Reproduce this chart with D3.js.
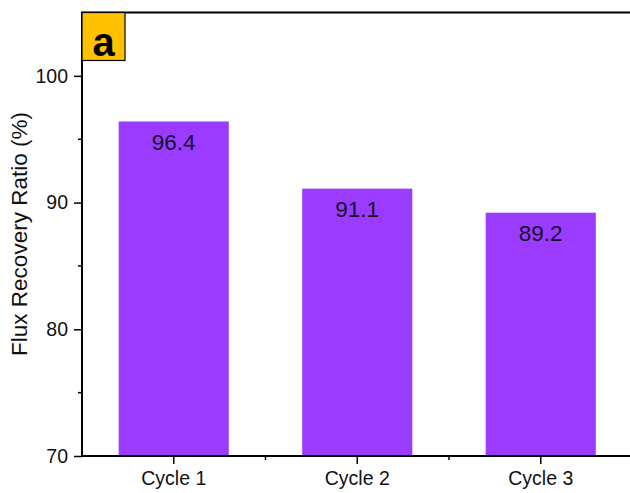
<!DOCTYPE html>
<html>
<head>
  <meta charset="UTF-8">
  <script src="https://d3js.org/d3.v7.min.js"></script>
  <style>
    html, body { margin: 0; padding: 0; background: #fff; overflow: hidden; }
    svg { display: block; font-family: "Liberation Sans", Arial, sans-serif; }
  </style>
</head>
<body>
  <svg width="630" height="493"></svg>
  <script>
    const cycles = ["Cycle 1", "Cycle 2", "Cycle 3"];
    const ratios = [96.4, 91.1, 89.2];
    const majorTicks = [70, 80, 90, 100];
    const minorTicks = [75, 85, 95];
    const panelLabel = "a";

    const svg = d3.select("svg");
    const plotL = 82, plotR = 632.5, plotT = 12.5, plotB = 456;

    const x = d3.scaleBand().domain(cycles).range([plotL, plotR])
      .paddingInner(0.4).paddingOuter(0.2);
    const y = d3.scaleLinear().domain([70, 105]).range([plotB, plotT]);

    // bars
    svg.append("g").selectAll("rect")
      .data(cycles)
      .enter().append("rect")
      .attr("x", d => x(d))
      .attr("width", x.bandwidth())
      .attr("y", (d, i) => y(ratios[i]))
      .attr("height", (d, i) => plotB - y(ratios[i]))
      .attr("fill", "#9a3bff");

    svg.append("g").selectAll("text")
      .data(cycles)
      .enter().append("text")
      .attr("x", d => x(d) + x.bandwidth() / 2)
      .attr("y", (d, i) => y(ratios[i]) + 28.5)
      .attr("text-anchor", "middle")
      .attr("font-size", 22.5)
      .attr("fill", "#14102a")
      .text((d, i) => ratios[i].toFixed(1));

    // y axis
    const yAxis = svg.append("g").attr("transform", `translate(${plotL},0)`)
      .call(d3.axisLeft(y).tickValues(majorTicks).tickSize(8).tickPadding(6).tickFormat(d3.format("d")));
    yAxis.select(".domain").remove();
    yAxis.selectAll("line").attr("stroke", "#000").attr("stroke-width", 1.5);
    yAxis.selectAll("text").attr("font-size", 19.5).attr("fill", "#111")
      .attr("font-family", "Liberation Sans, Arial, sans-serif");

    svg.append("g").selectAll("line")
      .data(minorTicks)
      .enter().append("line")
      .attr("x1", plotL - 4).attr("x2", plotL)
      .attr("y1", d => y(d)).attr("y2", d => y(d))
      .attr("stroke", "#000").attr("stroke-width", 1.5);

    // x axis
    const xAxis = svg.append("g").attr("transform", `translate(0,${plotB})`)
      .call(d3.axisBottom(x).tickSize(8).tickPadding(7));
    xAxis.select(".domain").remove();
    xAxis.selectAll("line").attr("stroke", "#000").attr("stroke-width", 1.5);
    xAxis.selectAll("text").attr("font-size", 19.5).attr("fill", "#111")
      .attr("font-family", "Liberation Sans, Arial, sans-serif");

    svg.append("g").selectAll("line")
      .data(cycles.slice(1))
      .enter().append("line")
      .attr("x1", d => x(d) - x.step() * x.paddingInner() / 2)
      .attr("x2", d => x(d) - x.step() * x.paddingInner() / 2)
      .attr("y1", plotB).attr("y2", plotB + 4)
      .attr("stroke", "#000").attr("stroke-width", 1.5);

    // frame
    svg.append("path")
      .attr("d", `M${plotR},${plotT}H${plotL}V${plotB}H${plotR}`)
      .attr("fill", "none").attr("stroke", "#000").attr("stroke-width", 2);

    // axis title
    svg.append("text")
      .attr("transform", "translate(27,234) rotate(-90)")
      .attr("text-anchor", "middle")
      .attr("font-size", 22.5)
      .attr("fill", "#111")
      .text("Flux Recovery Ratio (%)");

    // panel label
    svg.append("rect")
      .attr("x", plotL).attr("y", plotT).attr("width", 43).attr("height", 48)
      .attr("fill", "#ffc000").attr("stroke", "#000").attr("stroke-width", 1.2);
    svg.append("text")
      .attr("x", plotL + 21.5).attr("y", plotT + 43.5)
      .attr("text-anchor", "middle")
      .attr("font-size", 40).attr("font-weight", "bold")
      .attr("fill", "#000")
      .text(panelLabel);
  </script>
</body>
</html>
